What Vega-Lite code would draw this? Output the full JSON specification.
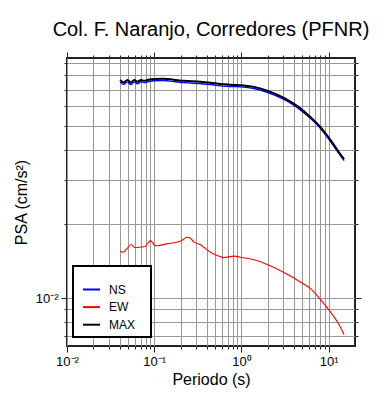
{
  "$schema": "https://vega.github.io/schema/vega-lite/v6.json",
  "width": 288,
  "height": 288,
  "autosize": {"type": "none"},
  "padding": {"left": 67, "top": 58, "right": 35, "bottom": 54},
  "background": "white",
  "title": {"text": "Col. F. Naranjo, Corredores (PFNR)", "font": "Liberation Sans", "fontSize": 20, "fontWeight": "normal", "color": "black", "frame": "group", "anchor": "middle", "offset": 12},
  "config": {
    "view": {"stroke": "#222", "strokeWidth": 2},
    "axis": {"domain": false, "tickColor": "#222", "tickWidth": 1, "gridColor": "#999", "gridWidth": 1, "labelFont": "Liberation Sans", "labelFontSize": 13, "labelColor": "black", "titleFont": "Liberation Sans", "titleFontSize": 16, "titleFontWeight": "normal", "titleColor": "black", "labelOverlap": false, "labelFlush": false, "labelBound": false}
  },
  "data": {"values": [
    {"comp": "NS", "T": 0.0407, "PSA": 0.0752},
    {"comp": "NS", "T": 0.0444, "PSA": 0.0734},
    {"comp": "NS", "T": 0.0493, "PSA": 0.0752},
    {"comp": "NS", "T": 0.054, "PSA": 0.0733},
    {"comp": "NS", "T": 0.0589, "PSA": 0.0752},
    {"comp": "NS", "T": 0.0643, "PSA": 0.0739},
    {"comp": "NS", "T": 0.0703, "PSA": 0.0753},
    {"comp": "NS", "T": 0.0767, "PSA": 0.0747},
    {"comp": "NS", "T": 0.086, "PSA": 0.0755},
    {"comp": "NS", "T": 0.098, "PSA": 0.076},
    {"comp": "NS", "T": 0.128, "PSA": 0.0762},
    {"comp": "NS", "T": 0.167, "PSA": 0.0755},
    {"comp": "NS", "T": 0.217, "PSA": 0.0747},
    {"comp": "NS", "T": 0.338, "PSA": 0.074},
    {"comp": "NS", "T": 0.441, "PSA": 0.0734},
    {"comp": "NS", "T": 0.574, "PSA": 0.0725},
    {"comp": "NS", "T": 0.748, "PSA": 0.0721},
    {"comp": "NS", "T": 1.06, "PSA": 0.0716},
    {"comp": "NS", "T": 1.39, "PSA": 0.0707},
    {"comp": "NS", "T": 1.97, "PSA": 0.0683},
    {"comp": "NS", "T": 3.07, "PSA": 0.0639},
    {"comp": "NS", "T": 4.37, "PSA": 0.0592},
    {"comp": "NS", "T": 6.21, "PSA": 0.0534},
    {"comp": "NS", "T": 8.09, "PSA": 0.0486},
    {"comp": "NS", "T": 10.5, "PSA": 0.0431},
    {"comp": "NS", "T": 13.1, "PSA": 0.0385},
    {"comp": "NS", "T": 15.0, "PSA": 0.0361},
    {"comp": "EW", "T": 0.0407, "PSA": 0.0155},
    {"comp": "EW", "T": 0.0437, "PSA": 0.01536},
    {"comp": "EW", "T": 0.0485, "PSA": 0.01585},
    {"comp": "EW", "T": 0.0545, "PSA": 0.0165},
    {"comp": "EW", "T": 0.0594, "PSA": 0.01604},
    {"comp": "EW", "T": 0.0789, "PSA": 0.0162},
    {"comp": "EW", "T": 0.09, "PSA": 0.0171},
    {"comp": "EW", "T": 0.096, "PSA": 0.01675},
    {"comp": "EW", "T": 0.1026, "PSA": 0.0163},
    {"comp": "EW", "T": 0.14, "PSA": 0.0166},
    {"comp": "EW", "T": 0.199, "PSA": 0.017},
    {"comp": "EW", "T": 0.217, "PSA": 0.01733},
    {"comp": "EW", "T": 0.238, "PSA": 0.01766},
    {"comp": "EW", "T": 0.26, "PSA": 0.0175},
    {"comp": "EW", "T": 0.283, "PSA": 0.0169},
    {"comp": "EW", "T": 0.338, "PSA": 0.01645},
    {"comp": "EW", "T": 0.441, "PSA": 0.01536},
    {"comp": "EW", "T": 0.526, "PSA": 0.0149},
    {"comp": "EW", "T": 0.626, "PSA": 0.0146},
    {"comp": "EW", "T": 0.815, "PSA": 0.0148},
    {"comp": "EW", "T": 1.06, "PSA": 0.01457},
    {"comp": "EW", "T": 1.39, "PSA": 0.0143},
    {"comp": "EW", "T": 1.97, "PSA": 0.0137},
    {"comp": "EW", "T": 3.07, "PSA": 0.0127},
    {"comp": "EW", "T": 4.77, "PSA": 0.01161},
    {"comp": "EW", "T": 6.21, "PSA": 0.01091},
    {"comp": "EW", "T": 8.09, "PSA": 0.00985},
    {"comp": "EW", "T": 10.5, "PSA": 0.00878},
    {"comp": "EW", "T": 12.6, "PSA": 0.008},
    {"comp": "EW", "T": 15.0, "PSA": 0.00711},
    {"comp": "MAX", "T": 0.0407, "PSA": 0.0766},
    {"comp": "MAX", "T": 0.0444, "PSA": 0.0748},
    {"comp": "MAX", "T": 0.0493, "PSA": 0.0766},
    {"comp": "MAX", "T": 0.054, "PSA": 0.0748},
    {"comp": "MAX", "T": 0.0589, "PSA": 0.0766},
    {"comp": "MAX", "T": 0.0643, "PSA": 0.0753},
    {"comp": "MAX", "T": 0.0703, "PSA": 0.0766},
    {"comp": "MAX", "T": 0.0767, "PSA": 0.076},
    {"comp": "MAX", "T": 0.086, "PSA": 0.0768},
    {"comp": "MAX", "T": 0.098, "PSA": 0.0773},
    {"comp": "MAX", "T": 0.128, "PSA": 0.0775},
    {"comp": "MAX", "T": 0.167, "PSA": 0.0768},
    {"comp": "MAX", "T": 0.217, "PSA": 0.076},
    {"comp": "MAX", "T": 0.338, "PSA": 0.0754},
    {"comp": "MAX", "T": 0.441, "PSA": 0.0747},
    {"comp": "MAX", "T": 0.574, "PSA": 0.0738},
    {"comp": "MAX", "T": 0.748, "PSA": 0.0733},
    {"comp": "MAX", "T": 1.06, "PSA": 0.0728},
    {"comp": "MAX", "T": 1.39, "PSA": 0.0718},
    {"comp": "MAX", "T": 1.97, "PSA": 0.0693},
    {"comp": "MAX", "T": 3.07, "PSA": 0.0648},
    {"comp": "MAX", "T": 4.37, "PSA": 0.06},
    {"comp": "MAX", "T": 6.21, "PSA": 0.0541},
    {"comp": "MAX", "T": 8.09, "PSA": 0.0492},
    {"comp": "MAX", "T": 10.5, "PSA": 0.0437},
    {"comp": "MAX", "T": 13.1, "PSA": 0.039},
    {"comp": "MAX", "T": 15.0, "PSA": 0.0366}
  ]},
  "layer": [
    {
      "transform": [{"filter": "datum.comp == 'NS'"}],
      "mark": {"type": "line", "interpolate": "monotone", "strokeWidth": 1.4},
      "encoding": {
        "x": {"field": "T", "type": "quantitative", "scale": {"type": "log", "domain": [0.01, 20], "nice": false},
          "axis": {"orient": "bottom", "values": [0.01,0.02,0.03,0.04,0.05,0.06,0.07,0.08,0.09,0.1,0.2,0.3,0.4,0.5,0.6,0.7,0.8,0.9,1,2,3,4,5,6,7,8,9,10],
            "grid": true, "tickSize": {"condition": {"test": "datum.value == 0.01 || datum.value == 0.1 || datum.value == 1 || datum.value == 10", "value": 6}, "value": 3},
            "labelExpr": "datum.value == 0.01 ? '10⁻²' : datum.value == 0.1 ? '10⁻¹' : datum.value == 1 ? '10⁰' : datum.value == 10 ? '10¹' : ''",
            "labelPadding": 3, "title": "Periodo (s)", "titlePadding": 3}},
        "y": {"field": "PSA", "type": "quantitative", "scale": {"type": "log", "domain": [0.0064, 0.094], "nice": false},
          "axis": {"orient": "left", "values": [0.007,0.008,0.009,0.01,0.02,0.03,0.04,0.05,0.06,0.07,0.08,0.09],
            "grid": true, "tickSize": {"condition": {"test": "datum.value == 0.01", "value": 6}, "value": 3},
            "labelExpr": "datum.value == 0.01 ? '10⁻²' : ''",
            "labelPadding": 3, "title": "PSA (cm/s²)", "titlePadding": 6}},
        "color": {"field": "comp", "type": "nominal", "scale": {"domain": ["NS", "EW", "MAX"], "range": ["#0000ff", "#ff0000", "#000000"]},
          "legend": {"orient": "none", "legendX": 6, "legendY": 208, "title": " ", "titleFontSize": 6, "titlePadding": 2,
            "fillColor": "white", "strokeColor": "black", "padding": 6, "symbolOffset": 3,
            "symbolType": "stroke", "symbolSize": 289, "symbolStrokeWidth": 2, "labelOffset": 8, "rowPadding": 1.6,
            "labelFont": "Liberation Sans", "labelFontSize": 12, "labelColor": "black",
            "labelExpr": "datum.label + '\u2800'",
            "encode": {"legend": {"update": {"strokeWidth": {"value": 2}}}}}}
      }
    },
    {
      "transform": [{"filter": "datum.comp == 'EW'"}],
      "mark": {"type": "line", "interpolate": "monotone", "strokeWidth": 1.1},
      "encoding": {
        "x": {"field": "T", "type": "quantitative", "axis": null},
        "y": {"field": "PSA", "type": "quantitative", "axis": null},
        "color": {"field": "comp", "type": "nominal"}
      }
    },
    {
      "transform": [{"filter": "datum.comp == 'MAX'"}],
      "mark": {"type": "line", "interpolate": "monotone", "strokeWidth": 2},
      "encoding": {
        "x": {"field": "T", "type": "quantitative",
          "axis": {"orient": "top", "values": [0.01,0.02,0.03,0.04,0.05,0.06,0.07,0.08,0.09,0.1,0.2,0.3,0.4,0.5,0.6,0.7,0.8,0.9,1,2,3,4,5,6,7,8,9,10],
            "grid": false, "labels": false, "title": null,
            "tickSize": {"condition": {"test": "datum.value == 0.01 || datum.value == 0.1 || datum.value == 1 || datum.value == 10", "value": 6}, "value": 3}}},
        "y": {"field": "PSA", "type": "quantitative",
          "axis": {"orient": "right", "values": [0.007,0.008,0.009,0.01,0.02,0.03,0.04,0.05,0.06,0.07,0.08,0.09],
            "grid": false, "labels": false, "title": null,
            "tickSize": {"condition": {"test": "datum.value == 0.01", "value": 6}, "value": 3}}},
        "color": {"field": "comp", "type": "nominal"}
      }
    }
  ],
  "resolve": {"axis": {"x": "independent", "y": "independent"}}
}
